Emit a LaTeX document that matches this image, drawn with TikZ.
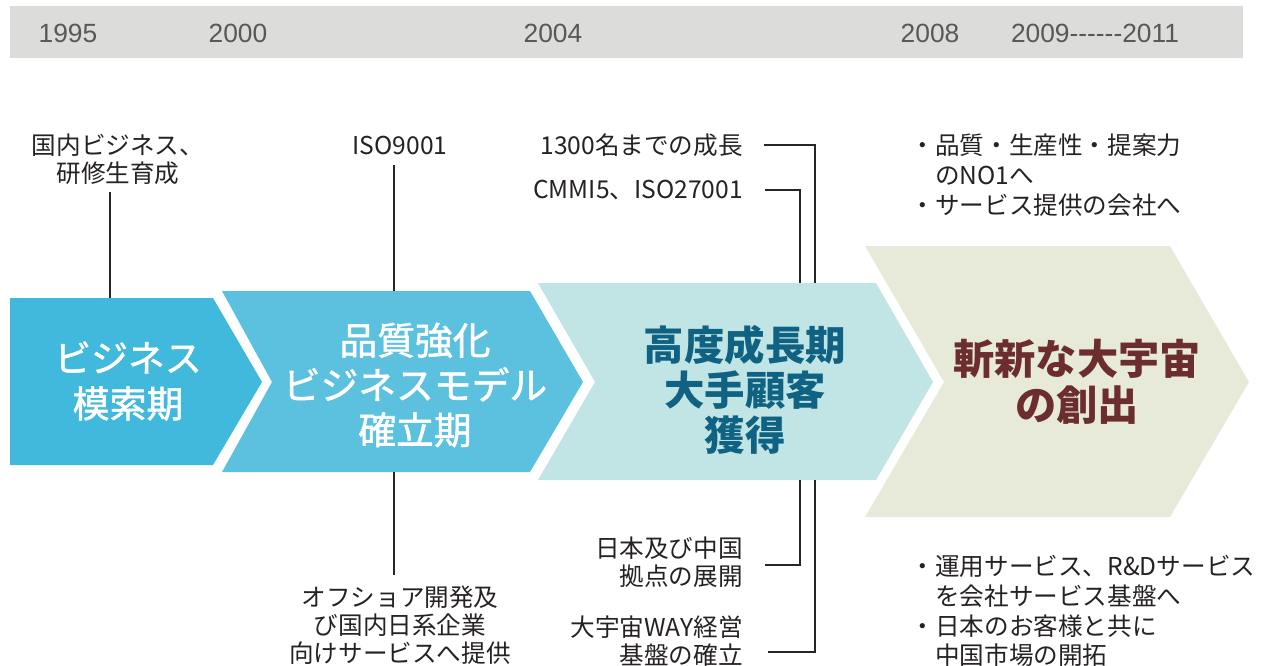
\documentclass[tikz,border=0pt]{standalone}
\usepackage{fontspec}
\setmainfont{Noto Sans CJK JP}
\newfontfamily\yearfont{Liberation Sans}
\newfontfamily\medfont[FakeBold=1.4]{Noto Sans CJK JP}
\usetikzlibrary{positioning,calc}
\definecolor{barGray}{RGB}{220,220,218}
\definecolor{yearGray}{RGB}{88,88,88}
\definecolor{txtDark}{RGB}{38,34,35}
\definecolor{phaseA}{RGB}{65,185,220}
\definecolor{phaseB}{RGB}{92,193,223}
\definecolor{phaseC}{RGB}{193,228,228}
\definecolor{phaseD}{RGB}{232,234,217}
\definecolor{tealTxt}{RGB}{16,98,130}
\definecolor{redTxt}{RGB}{107,45,45}
\newcommand{\bl}{\makebox[0.34cm][r]{・}}
\newcommand{\ind}{\hspace*{0.34cm}}
\begin{document}
\begin{tikzpicture}[x=0.02cm,y=-0.02cm,
    every node/.style={inner sep=0pt,font=\fontsize{14}{15.9}\selectfont,text=txtDark},
    year/.style={font=\yearfont\fontsize{15}{15}\selectfont,text=yearGray},
    lab/.style={align=center},
    labr/.style={align=right,anchor=east},
    bul/.style={align=left,anchor=west,font=\fontsize{14}{17}\selectfont},
    phase/.style={align=center,text=white,font=\medfont\fontsize{21}{26}\selectfont},
    phaseb/.style={align=center,font=\bfseries\fontsize{23}{25.5}\selectfont},
    conn/.style={draw=black!85,line width=0.6pt}
    ]
    \useasboundingbox (0,0) rectangle (1275,666);
    \fill[barGray] (10,6) rectangle (1243,58);
    \node[year] (y1995) at (68,33) {1995}; \node[year] (y2000) at (238,33) {2000};
    \node[year] (y2004) at (553,33) {2004}; \node[year] (y2008) at (930,33) {2008};
    \node[year] (y2011) at (1095,33) {2009------2011};
    \fill[phaseA] (10,298) -- (213,298) -- (262,382) -- (213,465) -- (10,465) -- cycle;
    \fill[phaseB] (222,291) -- (530,291) -- (583,382) -- (530,472) -- (222,472) -- (272,382) -- cycle;
    \fill[phaseC] (538,283) -- (876,283) -- (933,382) -- (876,480) -- (538,480) -- (595,382) -- cycle;
    \fill[phaseD] (865,246) -- (1170,246) -- (1249,382) -- (1170,517) -- (865,517) -- (944,382) -- cycle;
    \node[phase] (ph1) at (128,381) {ビジネス\\模索期};
    \node[phase,font=\medfont\fontsize{21.5}{25.5}\selectfont] (ph2) at (415,385) {品質強化\\ビジネスモデル\\確立期};
    \node[phaseb,text=tealTxt] (ph3) at (745,390) {高度成長期\\大手顧客\\獲得};
    \node[phaseb,text=redTxt,font=\bfseries\fontsize{23.5}{26}\selectfont] (ph4) at (1077,382) {斬新な大宇宙\\の創出};
    \node[lab] (home) at (118,159) {国内ビジネス、\\研修生育成};
    \node[lab] (iso) at (400,145) {ISO9001};
    \node[lab] (offsh) at (400,625) {オフショア開発及\\び国内日系企業\\向けサービスへ提供};
    \node[labr] (staff) at (743,145) {1300名までの成長};
    \node[labr] (cmmi) at (743,190) {CMMI5、ISO27001};
    \node[labr] (base) at (743,562) {日本及び中国\\拠点の展開};
    \node[labr] (way) at (743,641) {大宇宙WAY経営\\基盤の確立};
    \node[bul] (goalT) at (918,175) {\bl 品質・生産性・提案力\\\ind のNO1へ\\\bl サービス提供の会社へ};
    \node[bul] (goalB) at (918,611) {\bl 運用サービス、R\&Dサービス\\\ind を会社サービス基盤へ\\\bl 日本のお客様と共に\\\ind 中国市場の開拓};
    \coordinate (t1) at (110,298); \coordinate (t2) at (394,291); \coordinate (b2) at (394,472);
    \coordinate (t3a) at (815,283); \coordinate (t3b) at (800,283);
    \coordinate (b3a) at (815,480); \coordinate (b3b) at (800,480);
    \draw[conn] ([yshift=-4pt]home.south -| t1) -- (t1);
    \draw[conn] ([yshift=-6pt]iso.south -| t2) -- (t2);
    \draw[conn] (b2) -- ([yshift=6pt]offsh.north -| b2);
    \draw[conn] ([xshift=0.42cm]staff.east) -| (t3a);
    \draw[conn] ([xshift=0.44cm]cmmi.east) -| (t3b);
    \draw[conn] (b3b) |- ([xshift=0.44cm,yshift=-0.06cm]base.east);
    \draw[conn] (b3a) |- ([xshift=0.5cm,yshift=-0.22cm]way.east);
\end{tikzpicture}
\end{document}
